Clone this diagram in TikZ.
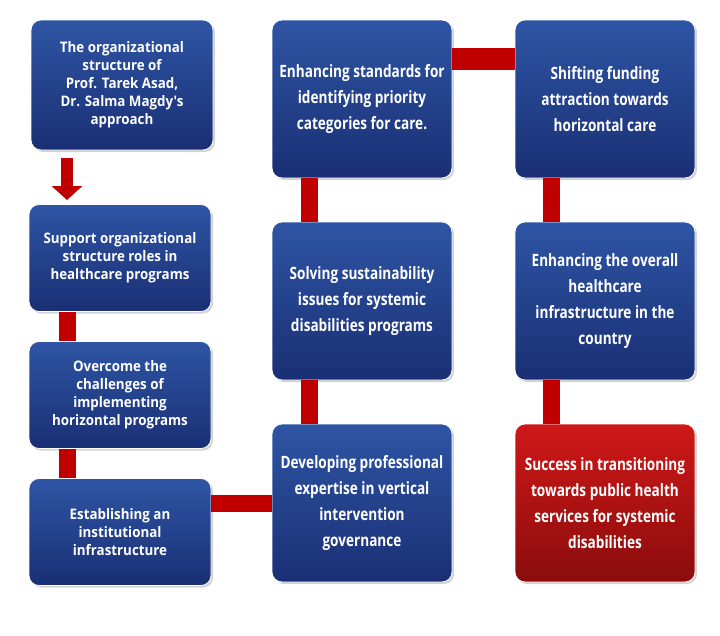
\documentclass[tikz,border=0pt]{standalone}
\usepackage{fontspec}
\setmainfont{Open Sans}
\newfontfamily\smallf{Open Sans}[FakeStretch=0.92]
\newfontfamily\bigf{Open Sans}[FakeStretch=0.8]
\usetikzlibrary{calc,arrows.meta,shadows}
\definecolor{bTop}{HTML}{2E55A4}
\definecolor{bBot}{HTML}{1A2F74}
\definecolor{rTop}{HTML}{D01818}
\definecolor{rBot}{HTML}{8A0C0C}
\definecolor{conR}{HTML}{C00000}
\begin{document}
\begin{tikzpicture}[x=1pt,y=-1pt,
  box/.style={draw=white,line width=0.8pt,rounded corners=10pt,top color=bTop,bottom color=bBot,
    text=white,align=center,inner sep=4pt,drop shadow={opacity=0.35,shadow xshift=2pt,shadow yshift=-2pt}},
  small/.style={box,minimum width=182pt,minimum height=107pt,font=\smallf\bfseries\fontsize{14.5}{18}\selectfont},
  big/.style={box,minimum width=180pt,minimum height=158pt,font=\bigf\bfseries\fontsize{17}{26}\selectfont},
  conn/.style={conR,line width=17pt}]
\useasboundingbox (0,0) rectangle (720,635);
\node[small,minimum height=130pt] (b1) at (122,85) {The organizational\\structure of\\Prof. Tarek Asad,\\Dr. Salma Magdy's\\approach};
\node[small] (b2) at (120,258) {Support organizational\\structure roles in\\healthcare programs};
\node[small] (b3) at (120,395) {Overcome the\\challenges of\\implementing\\horizontal programs};
\node[small] (b4) at (120,532) {Establishing an\\institutional\\infrastructure};
\node[big] (b5) at (362,99) {Enhancing standards for\\identifying priority\\categories for care.};
\node[big] (b6) at (362,301) {Solving sustainability\\issues for systemic\\disabilities programs};
\node[big] (b7) at (362,503) {Developing professional\\expertise in vertical\\intervention\\governance};
\node[big] (b8) at (605,99) {Shifting funding\\attraction towards\\horizontal care};
\node[big] (b9) at (605,301) {Enhancing the overall\\healthcare\\infrastructure in the\\country};
\node[big,top color=rTop,bottom color=rBot] (b10) at (605,503) {Success in transitioning\\towards public health\\services for systemic\\disabilities};
\draw[conR,line width=12pt,-{Triangle[width=30pt,length=14pt]}] (b1.south -| 67,0) ++(0,8) -- (67,200);
\draw[conn] (b2.south -| 67,0) -- (b3.north -| 67,0);
\draw[conn] (b3.south -| 67,0) -- (b4.north -| 67,0);
\draw[conn] (b4.east |- 0,503) -- (b7.west |- 0,503);
\draw[conn] (b7.north -| 309,0) -- (b6.south -| 309,0);
\draw[conn] (b6.north -| 309,0) -- (b5.south -| 309,0);
\draw[conR,line width=22pt] (b5.east |- 0,59) -- (b8.west |- 0,59);
\draw[conn] (b8.south -| 551,0) -- (b9.north -| 551,0);
\draw[conn] (b9.south -| 551,0) -- (b10.north -| 551,0);
\end{tikzpicture}
\end{document}
